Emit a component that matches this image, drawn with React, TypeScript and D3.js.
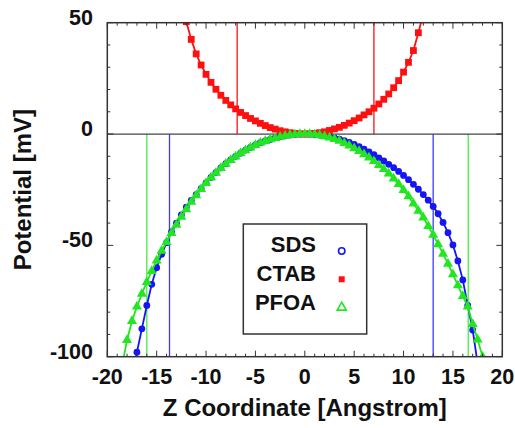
import React from 'react';
import * as d3 from 'd3';

const sdsX = [-17.5,-17,-16.5,-16,-15.5,-15,-14.5,-14,-13.5,-13,-12.5,-12,-11.5,-11,-10.5,-10,-9.5,-9,-8.5,-8,-7.5,-7,-6.5,-6,-5.5,-5,-4.5,-4,-3.5,-3,-2.5,-2,-1.5,-1,-0.5,0,0.5,1,1.5,2,2.5,3,3.5,4,4.5,5,5.5,6,6.5,7,7.5,8,8.5,9,9.5,10,10.5,11,11.5,12,12.5,13,13.5,14,14.5,15,15.5,16,16.5,17,17.5];
const sdsY = [-112,-98,-87.5,-77,-67.5,-60,-54,-48.8,-44,-40,-36.3,-32.8,-29.8,-27.2,-24.5,-21.9,-19.5,-17.3,-15.2,-13.3,-11.6,-10.0,-8.6,-7.2,-6.0,-4.9,-3.9,-3.1,-2.4,-1.7,-1.2,-0.8,-0.45,-0.2,-0.05,0,-0.05,-0.2,-0.45,-0.8,-1.2,-1.7,-2.3,-3.0,-3.8,-4.7,-5.7,-6.8,-8.0,-9.3,-10.7,-12.1,-13.6,-15.1,-16.8,-18.6,-20.5,-22.6,-24.8,-27.2,-29.7,-32.5,-35.8,-39.7,-44.3,-49.8,-57,-65.5,-77,-88,-103];

const ctabX = [-12,-11.5,-11,-10.5,-10,-9.5,-9,-8.5,-8,-7.5,-7,-6.5,-6,-5.5,-5,-4.5,-4,-3.5,-3,-2.5,-2,-1.5,-1,-0.5,0,0.5,1,1.5,2,2.5,3,3.5,4,4.5,5,5.5,6,6.5,7,7.5,8,8.5,9,9.5,10,10.5,11,11.5,12];
const ctabY = [50.5,42.5,36,31,26.8,23.2,20.1,17.4,15.1,13.1,11.3,9.7,8.3,7.0,5.9,4.8,3.8,2.9,2.2,1.5,1.0,0.6,0.3,0.1,0,0.1,0.3,0.6,1.0,1.6,2.3,3.0,3.9,4.9,6.0,7.2,8.6,10.0,11.6,13.5,15.6,18.0,20.8,24.0,27.8,32.2,37.5,45.5,54];

const pfoaX = [-18.5,-18,-17.5,-17,-16.5,-16,-15.5,-15,-14.5,-14,-13.5,-13,-12.5,-12,-11.5,-11,-10.5,-10,-9.5,-9,-8.5,-8,-7.5,-7,-6.5,-6,-5.5,-5,-4.5,-4,-3.5,-3,-2.5,-2,-1.5,-1,-0.5,0,0.5,1,1.5,2,2.5,3,3.5,4,4.5,5,5.5,6,6.5,7,7.5,8,8.5,9,9.5,10,10.5,11,11.5,12,12.5,13,13.5,14,14.5,15,15.5,16,16.5,17,17.5,18];
const pfoaY = [-104,-92.5,-84,-77.5,-71.8,-66.5,-61.5,-56.8,-52.5,-48.5,-44.5,-40.8,-37.2,-33.8,-30.5,-27.5,-24.7,-22,-19.6,-17.4,-15.3,-13.4,-11.7,-10.1,-8.6,-7.3,-6.1,-5.0,-4.0,-3.2,-2.4,-1.8,-1.25,-0.8,-0.45,-0.2,-0.05,0,-0.06,-0.25,-0.6,-1.0,-1.6,-2.3,-3.1,-4.1,-5.2,-6.4,-7.7,-9.1,-10.6,-12.2,-14.0,-15.8,-17.8,-20.0,-22.5,-25.2,-28.0,-31.2,-34.5,-37.5,-41.3,-45.3,-49.5,-53.8,-58.3,-63.0,-68.0,-72.8,-77.5,-85.3,-92.3,-100];

const ctabLines = [-6.85, 7.0];
const sdsLines = [-13.7, 13.0];
const pfoaLines = [-16.0, 16.55];

const xTicks = [-20,-15,-10,-5,0,5,10,15,20];
const yTicks = [-100,-50,0,50];
const legendLabels = ['SDS','CTAB','PFOA'];

const BLUE = '#1515f5';
const RED = '#ff1010';
const GREEN = '#22e622';

export default function App() {
  const L = 107.3, R = 502.3, T = 22.7, B = 356.7;
  const x = d3.scaleLinear().domain([-20, 20]).range([L, R]);
  const y = d3.scaleLinear().domain([-100, 50]).range([B, T]);
  const line = d3.line<[number, number]>().x(d => x(d[0])).y(d => y(d[1]));
  const sds = sdsX.map((v, i) => [v, sdsY[i]] as [number, number]);
  const ctab = ctabX.map((v, i) => [v, ctabY[i]] as [number, number]);
  const pfoa = pfoaX.map((v, i) => [v, pfoaY[i]] as [number, number]);
  const minorX = d3.range(-20, 21, 1);
  const minorY = d3.range(-100, 51, 10);
  const tri = d3.symbol().type(d3.symbolTriangle).size(44)();
  const triL = d3.symbol().type(d3.symbolTriangle).size(36)();
  const font = "'Liberation Sans', Arial, sans-serif";

  return (
    <svg width={515} height={428} style={{ position: 'absolute', left: 0, top: 0, background: '#fff' }} fontFamily={font}>
      <defs>
        <clipPath id="plot"><rect x={L} y={T} width={R - L} height={B - T} /></clipPath>
      </defs>
      <g clipPath="url(#plot)">
        {ctabLines.map((v, i) => <line key={'c' + i} x1={x(v)} x2={x(v)} y1={y(0)} y2={T} stroke={RED} strokeWidth={1.3} />)}
        {sdsLines.map((v, i) => <line key={'s' + i} x1={x(v)} x2={x(v)} y1={y(0)} y2={B} stroke="#3a3aff" strokeWidth={1.3} />)}
        {pfoaLines.map((v, i) => <line key={'p' + i} x1={x(v)} x2={x(v)} y1={y(0)} y2={B} stroke="#44ee44" strokeWidth={1.3} />)}
        <line x1={L} x2={R} y1={y(0)} y2={y(0)} stroke="#444" strokeWidth={1.3} />
        <path d={line(sds) || ''} fill="none" stroke={BLUE} strokeWidth={1.8} />
        {sds.map((d, i) => <circle key={'sm' + i} cx={x(d[0])} cy={y(d[1])} r={3.4} fill={BLUE} />)}
        <path d={line(ctab) || ''} fill="none" stroke={RED} strokeWidth={1.8} />
        {ctab.map((d, i) => <rect key={'cm' + i} x={x(d[0]) - 3.4} y={y(d[1]) - 3.4} width={6.8} height={6.8} fill={RED} />)}
        <path d={line(pfoa) || ''} fill="none" stroke={GREEN} strokeWidth={1.8} />
        {pfoa.map((d, i) => <path key={'pm' + i} d={tri || ''} transform={`translate(${x(d[0])},${y(d[1])})`} fill={GREEN} />)}
      </g>
      {minorX.map(v => {
        const len = v % 5 === 0 ? 6 : 3;
        return (
          <g key={'tx' + v}>
            <line x1={x(v)} x2={x(v)} y1={B} y2={B - len} stroke="#333" strokeWidth={1} />
            <line x1={x(v)} x2={x(v)} y1={T} y2={T + len} stroke="#333" strokeWidth={1} />
          </g>
        );
      })}
      {minorY.map(v => {
        const len = v % 50 === 0 ? 6 : 3;
        return (
          <g key={'ty' + v}>
            <line x1={L} x2={L + len} y1={y(v)} y2={y(v)} stroke="#333" strokeWidth={1} />
            <line x1={R} x2={R - len} y1={y(v)} y2={y(v)} stroke="#333" strokeWidth={1} />
          </g>
        );
      })}
      <rect x={L} y={T} width={R - L} height={B - T} fill="none" stroke="#333" strokeWidth={1.5} />
      {xTicks.map(v => (
        <text key={'xl' + v} x={x(v)} y={383.5} textAnchor="middle" fontSize={21.5} fontWeight="bold" fill="#111">{v}</text>
      ))}
      {yTicks.map(v => (
        <text key={'yl' + v} x={93} y={y(v) + 2} textAnchor="end" fontSize={21.5} fontWeight="bold" fill="#111">{v}</text>
      ))}
      <text x={(L + R) / 2} y={416} textAnchor="middle" fontSize={24} fontWeight="bold" fill="#111">Z Coordinate [Angstrom]</text>
      <text transform={`translate(31,${(T + B) / 2}) rotate(-90)`} textAnchor="middle" fontSize={24} fontWeight="bold" fill="#111">Potential [mV]</text>
      <rect x={243.3} y={224} width={123.4} height={110} fill="#fff" stroke="#333" strokeWidth={1.5} />
      {legendLabels.map((s, i) => (
        <text key={s} x={316} y={252 + i * 29} textAnchor="end" fontSize={22} fontWeight="bold" fill="#111">{s}</text>
      ))}
      <circle cx={341.7} cy={251} r={3.2} fill="none" stroke={BLUE} strokeWidth={1.6} />
      <rect x={338.7} y={276.3} width={6} height={6} fill={RED} />
      <path d={triL || ''} transform="translate(341.7,307.5)" fill="none" stroke={GREEN} strokeWidth={1.6} />
    </svg>
  );
}
